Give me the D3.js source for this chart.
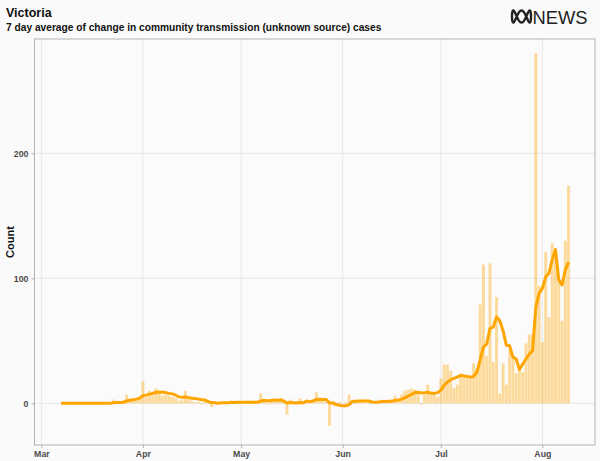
<!DOCTYPE html>
<html><head><meta charset="utf-8">
<script src="https://cdn.jsdelivr.net/npm/d3@7"></script>
<style>
body{margin:0;background:#fafafa}
svg{display:block}
text{font-family:"Liberation Sans",Arial,Helvetica,sans-serif}
</style>
</head><body>
<svg id="c" width="600" height="461"></svg>
<script>
// ---------- data ----------
const startDate = "2020-03-07";           // first day of the series
const dailyChange = [
  0,0,0,0,0, 0,0,0,0,0, 0,0,0,0,0,        // Mar 7 - Mar 21
  0,3,1,0,2,7,4,3,4,5,                    // Mar 22 - Mar 31
  18,5,10,6,12,8,6,7,6,5,4,2,3,10,4,2,1,1,-1,2,1,-3,0,0,1,0,1,2,0,1, // Apr
  1,0,1,2,1,1,8,3,-1,2,3,2,3,1,-9,3,1,2,4,0,2,2,3,9,3,2,1,-18,2,0,1, // May
  0,1,7,1,2,1,1,0,1,1,0,2,3,1,2,1,6,3,7,10,11,12,11,8,-1,7,15,7,9,5, // Jun
  20,31,31,26,12,15,22,22,20,21,32,28,79,111,38,112,33,85,8,32,15,43,36,24,28,25,48,55,55,280,94, // Jul
  49,121,69,128,124,99,66,130,174         // Aug 1 - Aug 9
];
const sevenDayAvg = [
  0,0,0,0,0, 0,0,0,0,0, 0,0,0,0,0,
  0,0.4,0.6,0.6,0.9,1.9,2.4,2.9,3.4,4.2,
  6.2,6.6,7.4,7.9,8.9,9.0,8.8,8.6,8.0,7.6,6.5,5.2,4.8,5.1,4.6,4.1,3.8,3.4,2.9,2.7,1.3,0.6,0.4,0.1,0.4,0.4,0.4,0.9,0.7,0.9,
  0.9,0.9,0.9,0.9,0.9,0.9,1.9,2.3,2.0,2.3,2.6,2.4,2.9,1.9,0.2,0.7,0.4,0.3,0.7,0.4,1.9,1.4,1.9,3.1,3.3,3.0,3.1,0.4,0.1,-0.9,-1.6,
  -1.9,-1.9,-1.0,1.7,1.7,1.8,1.9,1.9,1.9,1.1,0.9,1.1,1.4,1.4,1.6,1.7,2.4,2.7,3.4,4.4,5.8,7.1,8.6,8.9,8.3,8.4,8.9,8.1,8.0,8.6,
  10.5,14.5,17.0,19.0,20.0,21.0,22.5,22.0,21.5,21.0,21.5,25.0,34.5,45.0,47.5,60.0,61.0,69.0,66.0,58.0,46.5,46.0,37.0,35.5,27.0,31.5,35.5,39.5,42.0,77.0,88.0,
  92.0,101.0,104.0,114.7,123.0,98.7,94.7,106.7,113.0
];
const yTicks = [0, 100, 200];
const monthTicks = ["2020-03-01","2020-04-01","2020-05-01","2020-06-01","2020-07-01","2020-08-01"];
const titleText = "Victoria";
const subtitleText = "7 day average of change in community transmission (unknown source) cases";
const yAxisTitle = "Count";
const brandText = "NEWS";

// ---------- layout ----------
const svg = d3.select("#c");
const W = 600, H = 461;
const panel = {left: 34.5, right: 595, top: 39, bottom: 445};
const parse = d3.utcParse("%Y-%m-%d");
const t0 = parse(startDate);
const rows = dailyChange.map((v, i) => ({date: d3.utcDay.offset(t0, i), value: v, avg: sevenDayAvg[i]}));

const mar1 = parse("2020-03-01");
const dayMs = 864e5;
const x = d3.scaleUtc()
  .domain([new Date(+mar1 - 2.107 * dayMs), new Date(+mar1 + 169.07 * dayMs)])
  .range([panel.left, panel.right]);
const y = d3.scaleLinear().domain([-33.3, 291.4]).range([panel.bottom, panel.top]);

svg.append("rect").attr("width", W).attr("height", H).attr("fill", "#fafafa");
svg.append("rect").attr("x", panel.left).attr("y", panel.top)
  .attr("width", panel.right - panel.left).attr("height", panel.bottom - panel.top)
  .attr("fill", "#fbfbfb");

const months = monthTicks.map(parse);
// gridlines
svg.append("g").selectAll("line").data(months).join("line")
  .attr("x1", d => x(d)).attr("x2", d => x(d))
  .attr("y1", panel.top).attr("y2", panel.bottom)
  .attr("stroke", "#e8e8e8").attr("stroke-width", 1);
svg.append("g").selectAll("line").data(yTicks).join("line")
  .attr("x1", panel.left).attr("x2", panel.right)
  .attr("y1", d => y(d)).attr("y2", d => y(d))
  .attr("stroke", "#e8e8e8").attr("stroke-width", 1);

// bars
const dayW = x(d3.utcDay.offset(t0, 1)) - x(t0);
const bw = dayW * 0.9;
svg.append("g").selectAll("rect").data(rows).join("rect")
  .attr("x", d => x(d.date) - bw / 2)
  .attr("y", d => Math.min(y(d.value), y(0)))
  .attr("width", bw)
  .attr("height", d => Math.abs(y(d.value) - y(0)))
  .attr("fill", "#ffa500").attr("fill-opacity", 0.38);

// line
const line = d3.line().x(d => x(d.date)).y(d => y(d.avg));
svg.append("path").datum(rows).attr("d", line)
  .attr("fill", "none").attr("stroke", "#ffa500").attr("stroke-width", 3)
  .attr("stroke-linejoin", "round").attr("stroke-linecap", "butt");

// panel border
svg.append("rect").attr("x", panel.left).attr("y", panel.top)
  .attr("width", panel.right - panel.left).attr("height", panel.bottom - panel.top)
  .attr("fill", "none").attr("stroke", "#b3b3b3").attr("stroke-width", 1);

// axes
const xAxis = svg.append("g").attr("transform", `translate(0,${panel.bottom})`)
  .call(d3.axisBottom(x).tickValues(months).tickFormat(d3.utcFormat("%b")).tickSize(3).tickPadding(3));
const yAxis = svg.append("g").attr("transform", `translate(${panel.left},0)`)
  .call(d3.axisLeft(y).tickValues(yTicks).tickSize(3).tickPadding(3));
[xAxis, yAxis].forEach(a => {
  a.select(".domain").remove();
  a.selectAll(".tick line").attr("stroke", "#b3b3b3");
  a.selectAll("text").attr("fill", "#4d4d4d").attr("font-size", 8.8).attr("font-weight", "bold")
    .attr("font-family", "'Liberation Sans',Arial,sans-serif");
});

// titles
svg.append("text").attr("x", 6).attr("y", 17).text(titleText)
  .attr("font-size", 12.5).attr("font-weight", "bold").attr("fill", "#111");
svg.append("text").attr("x", 6).attr("y", 30.5).text(subtitleText)
  .attr("font-size", 10.2).attr("font-weight", "bold").attr("fill", "#111");
svg.append("text").attr("transform", `translate(14,${(panel.top + panel.bottom) / 2}) rotate(-90)`)
  .attr("text-anchor", "middle").text(yAxisTitle)
  .attr("font-size", 11).attr("font-weight", "bold").attr("fill", "#111");

// brand logo (ABC lissajous + NEWS)
const logo = svg.append("g").attr("transform", "translate(521.5,16.5)");
const liss = d3.range(0, 2 * Math.PI + 0.01, 0.02).map(t => [9.5 * Math.cos(t), 6 * Math.sin(3 * t)]);
logo.append("path").attr("d", d3.line()(liss)).attr("fill", "none")
  .attr("stroke", "#222").attr("stroke-width", 2.4);
svg.append("text").attr("x", 532.5).attr("y", 24).text(brandText)
  .attr("font-size", 18).attr("fill", "#222")
  .attr("textLength", 55).attr("lengthAdjust", "spacingAndGlyphs");
</script>
</body></html>
